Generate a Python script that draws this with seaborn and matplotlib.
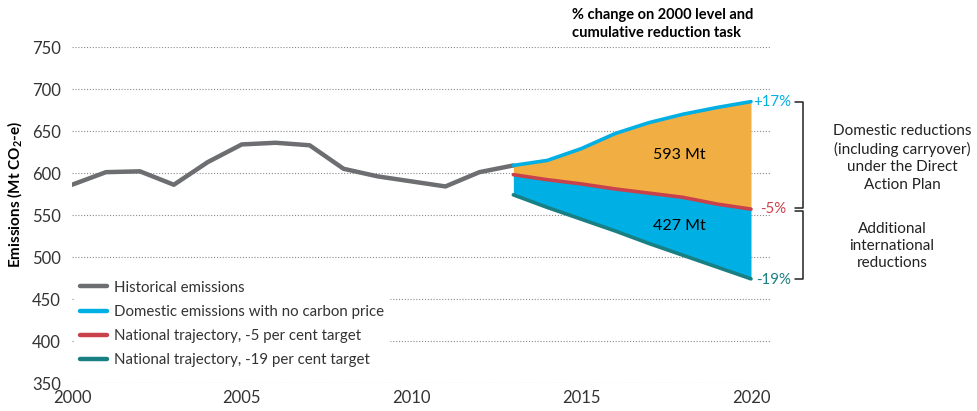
import matplotlib
matplotlib.use("Agg")
import matplotlib.pyplot as plt
import seaborn as sns
import pandas as pd

# historical emissions (Mt CO2-e)
hist_years = [2000, 2001, 2002, 2003, 2004, 2005, 2006, 2007, 2008, 2009, 2010, 2011, 2012, 2013]
hist_vals = [586, 601, 602, 586, 613, 634, 636, 633, 605, 596, 590, 584, 601, 609]

# projections
proj_years = [2013, 2014, 2015, 2016, 2017, 2018, 2019, 2020]
no_price = [609, 615, 629, 647, 660, 670, 678, 685]
target_5 = [598, 592, 587, 581, 576, 571, 563, 557]
target_19 = [574, 559, 545, 531, 516, 502, 488, 474]

labels = ["Historical emissions", "Domestic emissions with no carbon price",
          "National trajectory, -5 per cent target", "National trajectory, -19 per cent target"]
pct_labels = ["+17%", "-5%", "-19%"]
area_labels = ["593 Mt", "427 Mt"]

GREY = "#6d6e71"
BLUE = "#00afe3"
RED = "#c8414b"
TEAL = "#187f82"
ORANGE = "#f0ae43"
TXT = "#333333"

sns.set_style("white")
plt.rcParams['font.family'] = ['Lato', 'DejaVu Sans']
plt.rcParams['mathtext.fontset'] = 'custom'
plt.rcParams['mathtext.rm'] = 'Lato'
plt.rcParams['mathtext.bf'] = 'Lato:bold'

fig = plt.figure(figsize=(9.78, 4.11), dpi=100)
ax = fig.add_axes([72 / 978, 1 - 383 / 411, 698 / 978, 336 / 411])

hist = pd.DataFrame({"year": hist_years, "val": hist_vals})
proj = pd.DataFrame({"year": proj_years, "none": no_price, "t5": target_5, "t19": target_19})

ax.fill_between(proj["year"], proj["t5"], proj["none"], color=ORANGE, lw=0, zorder=1)
ax.fill_between(proj["year"], proj["t19"], proj["t5"], color=BLUE, lw=0, zorder=1)

sns.lineplot(data=hist, x="year", y="val", ax=ax, color=GREY, lw=3.2, label=labels[0], zorder=3)
sns.lineplot(data=proj, x="year", y="none", ax=ax, color=BLUE, lw=2.6, label=labels[1], zorder=3)
sns.lineplot(data=proj, x="year", y="t5", ax=ax, color=RED, lw=2.6, label=labels[2], zorder=3)
sns.lineplot(data=proj, x="year", y="t19", ax=ax, color=TEAL, lw=2.6, label=labels[3], zorder=3)

ax.set_xlim(2000, 2020.56)
ax.set_ylim(350, 750)
ax.set_xticks([2000, 2005, 2010, 2015, 2020])
ax.set_yticks(range(350, 751, 50))
ax.tick_params(axis="both", length=0, labelsize=12, colors=TXT)
ax.tick_params(axis="y", pad=8)
ax.tick_params(axis="x", pad=5)
for s in ax.spines.values():
    s.set_visible(False)
ax.grid(axis="y", color="#8a8a8a", linestyle=(0, (1, 1.6)), lw=0.8)
ax.set_axisbelow(True)
ax.set_xlabel("")
ax.set_ylabel("Emissions (Mt CO$_\\mathbf{2}$-e)", fontsize=11, fontweight="bold", color="black")
ax.yaxis.set_label_coords(-0.067, 0.5625)

leg = ax.legend(loc="upper left", bbox_to_anchor=(0.005, 0.318), frameon=True, fontsize=10.8,
                handlelength=1.8, handletextpad=0.5, labelspacing=0.68, borderpad=0.3,
                borderaxespad=0)
leg.get_frame().set_facecolor("white")
leg.get_frame().set_edgecolor("white")
leg.get_frame().set_alpha(1)
for t in leg.get_texts():
    t.set_color(TXT)
for h in leg.get_lines():
    h.set_linewidth(3.2)

# end labels
ax.text(2020.06, no_price[-1], pct_labels[0], color=BLUE, fontsize=10.8, va="center", ha="left")
ax.text(2020.28, target_5[-1], pct_labels[1], color=RED, fontsize=10.8, va="center", ha="left")
ax.text(2020.15, target_19[-1] - 1.5, pct_labels[2], color=TEAL, fontsize=10.8, va="center", ha="left")

ax.text(2017.9, 621, area_labels[0], fontsize=11.5, ha="center", va="center", color="black")
ax.text(2017.9, 537, area_labels[1], fontsize=11.5, ha="center", va="center", color="black")

# brackets
bx, tx = 2021.53, 2021.29
ax.plot([tx, bx, bx, tx], [no_price[-1], no_price[-1], target_5[-1] + 1.5, target_5[-1] + 1.5],
        color="#222222", lw=1.1, clip_on=False)
ax.plot([tx, bx, bx, tx], [target_5[-1] - 2.5, target_5[-1] - 2.5, target_19[-1], target_19[-1]],
        color="#222222", lw=1.1, clip_on=False)

fig.text(902 / 978, 1 - 158 / 411, "Domestic reductions\n(including carryover)\nunder the Direct\nAction Plan",
         ha="center", va="center", fontsize=11, color="#222222", linespacing=1.3)
fig.text(892 / 978, 1 - 246 / 411, "Additional\ninternational\nreductions",
         ha="center", va="center", fontsize=11, color="#222222", linespacing=1.3)

fig.text(572 / 978, 1 - 24 / 411, "% change on 2000 level and\ncumulative reduction task",
         ha="left", va="center", fontsize=10.5, fontweight="bold", color="black", linespacing=1.3)

fig.savefig("out.png", dpi=100)
